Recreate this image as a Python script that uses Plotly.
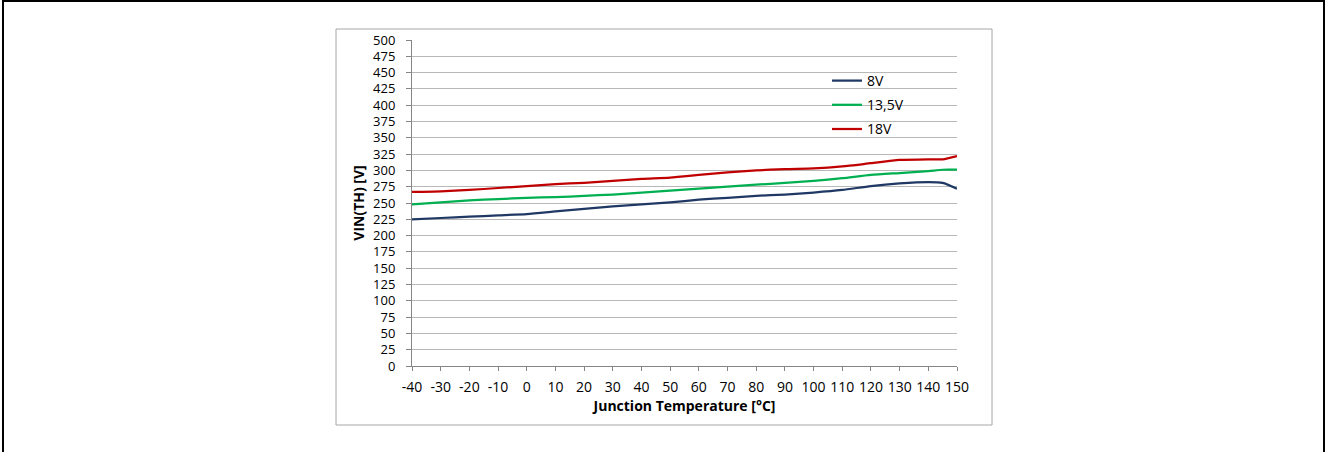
import plotly.graph_objects as go

# Junction temperature [°C]
temps = [-40, -30, -20, -10, 0, 10, 20, 30, 40, 50, 60, 70, 80, 90, 100,
         110, 120, 130, 140, 145, 150]

# VIN(TH) [V] per supply voltage
vin_8v = [225, 227, 229, 231, 233, 237, 241, 245, 248, 251, 255, 258, 261,
          263, 266, 270, 276, 280, 282, 281, 272]
vin_13v5 = [248, 251, 254, 256, 258, 259, 261, 263, 266, 269, 272, 275, 278,
            281, 284, 288, 293, 296, 299, 301, 301]
vin_18v = [267, 268, 270, 273, 276, 279, 281, 284, 287, 289, 293, 297, 300,
           302, 303, 306, 311, 316, 317, 317, 322]

series_names = ["8V", "13,5V", "18V"]
series_colors = ["#1f3864", "#00b050", "#c00000"]

x_ticks = list(range(-40, 151, 10))
x_ticktext = [str(t) for t in x_ticks]  # plain hyphen like the original
y_ticks = list(range(0, 501, 25))

fig = go.Figure()
for name, vals, color in zip(series_names, [vin_8v, vin_13v5, vin_18v], series_colors):
    fig.add_trace(go.Scatter(
        x=temps, y=vals, mode="lines", name=name, legendgroup=name,
        line=dict(color=color, width=2.25, shape="spline", smoothing=0.6),
    ))

# pixel -> paper helpers (plot area 412..957 x 40..366)
L, R, T, B = 412, 957, 40, 366
W, H = R - L, B - T


def px(x):
    return (x - L) / W


def py(y):
    return (B - y) / H


fig.update_layout(
    width=1328, height=452,
    margin=dict(l=L, r=1328 - R, t=T, b=452 - B),
    paper_bgcolor="white", plot_bgcolor="white",
    font=dict(family="'Open Sans', sans-serif", size=14, color="black"),
    showlegend=True,
    legend=dict(x=px(827), y=py(65), xanchor="left", yanchor="top",
                bgcolor="rgba(0,0,0,0)", itemwidth=30,
                font=dict(size=14), tracegroupgap=3),
    xaxis=dict(range=[-40, 150], tickvals=x_ticks, ticktext=x_ticktext,
               ticks="outside", ticklen=4, ticklabelstandoff=4,
               tickcolor="#868686", showline=True, linecolor="#868686",
               showgrid=False, zeroline=False,
               title=dict(text="<b>Junction Temperature [°C]</b>", font=dict(size=14),
                          standoff=6)),
    yaxis=dict(range=[0, 500], tickvals=y_ticks, ticks="outside", ticklen=5,
               ticklabelstandoff=8, tickfont=dict(size=13),
               tickcolor="#868686", showline=True, linecolor="#868686",
               showgrid=True, gridcolor="#b8b8b8", gridwidth=1, zeroline=False,
               title=dict(text="<b>VIN(TH) [V]</b>", font=dict(size=14), standoff=5)),
    shapes=[
        # chart area border
        dict(type="rect", xref="paper", yref="paper",
             x0=px(336), x1=px(992), y0=py(425), y1=py(29),
             line=dict(color="#a6a6a6", width=1), layer="below"),
        # outer frame (left, top, right)
        dict(type="line", xref="paper", yref="paper",
             x0=px(3), x1=px(3), y0=py(1), y1=py(470),
             line=dict(color="black", width=2)),
        dict(type="line", xref="paper", yref="paper",
             x0=px(2), x1=px(1325), y0=py(1), y1=py(1),
             line=dict(color="black", width=2)),
        dict(type="line", xref="paper", yref="paper",
             x0=px(1324), x1=px(1324), y0=py(1), y1=py(470),
             line=dict(color="black", width=2)),
    ],
)

fig.write_html("out.html", config={"displayModeBar": False},
               post_script="document.body.style.margin='0';document.body.style.overflow='hidden';")
